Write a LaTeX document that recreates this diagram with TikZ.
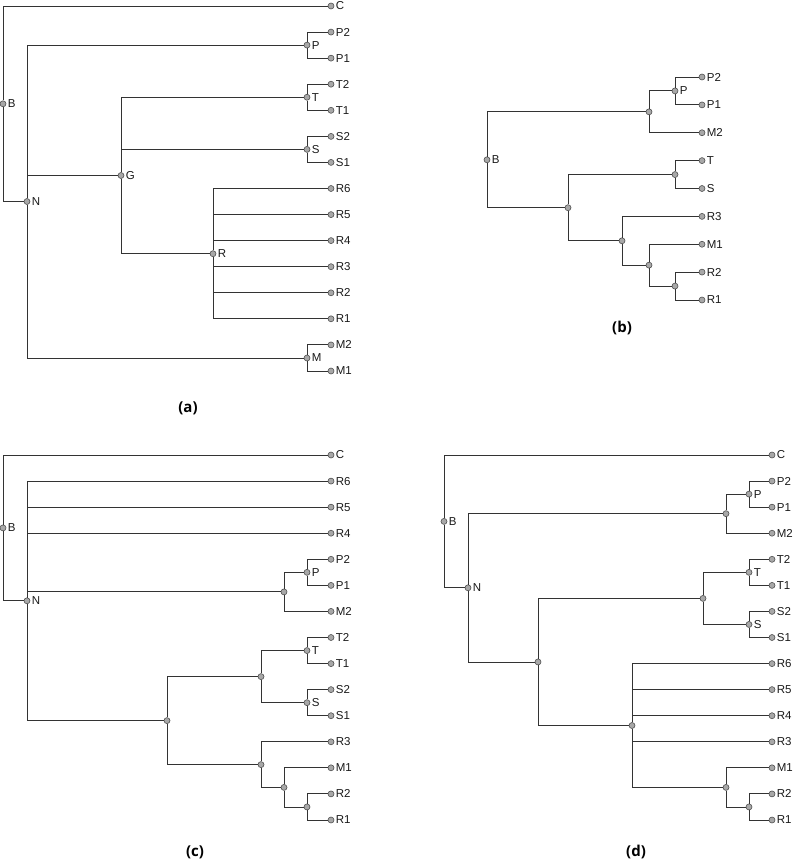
\documentclass[tikz,border=0pt]{standalone}
\usepackage{fontspec}
\setmainfont{Liberation Sans}
\newfontfamily\capfont{Open Sans}
\definecolor{edgecol}{HTML}{333333}
\definecolor{dotfill}{HTML}{A8A8A8}
\definecolor{dotline}{HTML}{505050}
\begin{document}
\begin{tikzpicture}[x=1pt,y=-1pt,
  dot/.style={circle,draw=dotline,fill=dotfill,inner sep=0pt,minimum size=6pt,line width=0.6pt},
  lab/.style={font=\fontsize{11.5}{13}\selectfont,inner sep=0pt,xshift=1.4pt,text=black!90},
  edge/.style={draw=edgecol,line width=0.9pt},
  captext/.style={font=\capfont\bfseries\fontsize{15}{17}\selectfont,inner sep=0pt}]
\useasboundingbox (0,0) rectangle (794,864);

% ---------------- (a) ----------------
\node[dot,label={[lab]right:C}]  (aC)  at (331,6) {};
\node[dot,label={[lab]right:P2}] (aP2) at (331,32.07) {};
\node[dot,label={[lab]right:P1}] (aP1) at (331,58.14) {};
\node[dot,label={[lab]right:T2}] (aT2) at (331,84.2) {};
\node[dot,label={[lab]right:T1}] (aT1) at (331,110.3) {};
\node[dot,label={[lab]right:S2}] (aS2) at (331,136.4) {};
\node[dot,label={[lab]right:S1}] (aS1) at (331,162.4) {};
\node[dot,label={[lab]right:R6}] (aR6) at (331,188.5) {};
\node[dot,label={[lab]right:R5}] (aR5) at (331,214.6) {};
\node[dot,label={[lab]right:R4}] (aR4) at (331,240.6) {};
\node[dot,label={[lab]right:R3}] (aR3) at (331,266.7) {};
\node[dot,label={[lab]right:R2}] (aR2) at (331,292.8) {};
\node[dot,label={[lab]right:R1}] (aR1) at (331,318.8) {};
\node[dot,label={[lab]right:M2}] (aM2) at (331,344.9) {};
\node[dot,label={[lab]right:M1}] (aM1) at (331,371) {};
\node[dot,label={[lab]right:P}] (aP) at (307,45.1) {};
\node[dot,label={[lab]right:T}] (aT) at (307,97.25) {};
\node[dot,label={[lab]right:S}] (aS) at (307,149.4) {};
\node[dot,label={[lab]right:R}] (aR) at (213,253.7) {};
\node[dot,label={[lab]right:M}] (aM) at (307,358) {};
\node[dot,label={[lab]right:G}] (aG) at (121,175.5) {};
\node[dot,label={[lab]right:N}] (aN) at (27,201.5) {};
\node[dot,label={[lab]right:B}] (aB) at (3,103.8) {};
\draw[edge] (aB) |- (aC);  \draw[edge] (aB) |- (aN);
\draw[edge] (aN) |- (aP);  \draw[edge] (aN) |- (aG);  \draw[edge] (aN) |- (aM);
\draw[edge] (aG) |- (aT);  \draw[edge] (aG) |- (aS);  \draw[edge] (aG) |- (aR);
\draw[edge] (aP) |- (aP2); \draw[edge] (aP) |- (aP1);
\draw[edge] (aT) |- (aT2); \draw[edge] (aT) |- (aT1);
\draw[edge] (aS) |- (aS2); \draw[edge] (aS) |- (aS1);
\draw[edge] (aR) |- (aR6); \draw[edge] (aR) |- (aR5); \draw[edge] (aR) |- (aR4);
\draw[edge] (aR) |- (aR3); \draw[edge] (aR) |- (aR2); \draw[edge] (aR) |- (aR1);
\draw[edge] (aM) |- (aM2); \draw[edge] (aM) |- (aM1);
\node[captext] (capa) at (188,408) {(a)};

% ---------------- (b) ----------------
\node[dot,label={[lab]right:P2}] (bP2) at (702,77) {};
\node[dot,label={[lab]right:P1}] (bP1) at (702,104.9) {};
\node[dot,label={[lab]right:M2}] (bM2) at (702,132.75) {};
\node[dot,label={[lab]right:T}]  (bT)  at (702,160.6) {};
\node[dot,label={[lab]right:S}]  (bS)  at (702,188.5) {};
\node[dot,label={[lab]right:R3}] (bR3) at (702,216.4) {};
\node[dot,label={[lab]right:M1}] (bM1) at (702,244.25) {};
\node[dot,label={[lab]right:R2}] (bR2) at (702,272.1) {};
\node[dot,label={[lab]right:R1}] (bR1) at (702,300) {};
\node[dot,label={[lab]right:P}] (bP) at (675,90.94) {};
\node[dot] (bPM) at (649,111.84) {};
\node[dot] (bTS) at (675,174.56) {};
\node[dot] (bRR) at (675,286.06) {};
\node[dot] (bMR) at (649,265.15) {};
\node[dot] (bR3n) at (622,240.8) {};
\node[dot] (bLow) at (568,207.7) {};
\node[dot,label={[lab]right:B}] (bB) at (487,159.8) {};
\draw[edge] (bB) |- (bPM);  \draw[edge] (bB) |- (bLow);
\draw[edge] (bPM) |- (bP);  \draw[edge] (bPM) |- (bM2);
\draw[edge] (bP) |- (bP2);  \draw[edge] (bP) |- (bP1);
\draw[edge] (bLow) |- (bTS); \draw[edge] (bLow) |- (bR3n);
\draw[edge] (bTS) |- (bT);  \draw[edge] (bTS) |- (bS);
\draw[edge] (bR3n) |- (bR3); \draw[edge] (bR3n) |- (bMR);
\draw[edge] (bMR) |- (bM1); \draw[edge] (bMR) |- (bRR);
\draw[edge] (bRR) |- (bR2); \draw[edge] (bRR) |- (bR1);
\node[captext] (capb) at (622,328) {(b)};

% ---------------- (c) ----------------
\node[dot,label={[lab]right:C}]  (cC)  at (331,455) {};
\node[dot,label={[lab]right:R6}] (cR6) at (331,481.07) {};
\node[dot,label={[lab]right:R5}] (cR5) at (331,507.14) {};
\node[dot,label={[lab]right:R4}] (cR4) at (331,533.2) {};
\node[dot,label={[lab]right:P2}] (cP2) at (331,559.3) {};
\node[dot,label={[lab]right:P1}] (cP1) at (331,585.4) {};
\node[dot,label={[lab]right:M2}] (cM2) at (331,611.4) {};
\node[dot,label={[lab]right:T2}] (cT2) at (331,637.5) {};
\node[dot,label={[lab]right:T1}] (cT1) at (331,663.6) {};
\node[dot,label={[lab]right:S2}] (cS2) at (331,689.6) {};
\node[dot,label={[lab]right:S1}] (cS1) at (331,715.7) {};
\node[dot,label={[lab]right:R3}] (cR3) at (331,741.8) {};
\node[dot,label={[lab]right:M1}] (cM1) at (331,767.8) {};
\node[dot,label={[lab]right:R2}] (cR2) at (331,793.9) {};
\node[dot,label={[lab]right:R1}] (cR1) at (331,820) {};
\node[dot,label={[lab]right:P}] (cP) at (307,572.35) {};
\node[dot] (cPM) at (284,591.9) {};
\node[dot,label={[lab]right:T}] (cT) at (307,650.55) {};
\node[dot,label={[lab]right:S}] (cS) at (307,702.65) {};
\node[dot] (cTS) at (261,676.6) {};
\node[dot] (cRR) at (307,806.95) {};
\node[dot] (cMR) at (284,787.4) {};
\node[dot] (cR3n) at (261,764.6) {};
\node[dot] (cBig) at (167,720.6) {};
\node[dot,label={[lab]right:N}] (cN) at (27,600.8) {};
\node[dot,label={[lab]right:B}] (cB) at (3,527.9) {};
\draw[edge] (cB) |- (cC);  \draw[edge] (cB) |- (cN);
\draw[edge] (cN) |- (cR6); \draw[edge] (cN) |- (cR5); \draw[edge] (cN) |- (cR4);
\draw[edge] (cN) |- (cPM); \draw[edge] (cN) |- (cBig);
\draw[edge] (cPM) |- (cP); \draw[edge] (cPM) |- (cM2);
\draw[edge] (cP) |- (cP2); \draw[edge] (cP) |- (cP1);
\draw[edge] (cBig) |- (cTS); \draw[edge] (cBig) |- (cR3n);
\draw[edge] (cTS) |- (cT); \draw[edge] (cTS) |- (cS);
\draw[edge] (cT) |- (cT2); \draw[edge] (cT) |- (cT1);
\draw[edge] (cS) |- (cS2); \draw[edge] (cS) |- (cS1);
\draw[edge] (cR3n) |- (cR3); \draw[edge] (cR3n) |- (cMR);
\draw[edge] (cMR) |- (cM1); \draw[edge] (cMR) |- (cRR);
\draw[edge] (cRR) |- (cR2); \draw[edge] (cRR) |- (cR1);
\node[captext] (capc) at (195,852) {(c)};

% ---------------- (d) ----------------
\node[dot,label={[lab]right:C}]  (dC)  at (772,455) {};
\node[dot,label={[lab]right:P2}] (dP2) at (772,481.07) {};
\node[dot,label={[lab]right:P1}] (dP1) at (772,507.14) {};
\node[dot,label={[lab]right:M2}] (dM2) at (772,533.2) {};
\node[dot,label={[lab]right:T2}] (dT2) at (772,559.3) {};
\node[dot,label={[lab]right:T1}] (dT1) at (772,585.4) {};
\node[dot,label={[lab]right:S2}] (dS2) at (772,611.4) {};
\node[dot,label={[lab]right:S1}] (dS1) at (772,637.5) {};
\node[dot,label={[lab]right:R6}] (dR6) at (772,663.6) {};
\node[dot,label={[lab]right:R5}] (dR5) at (772,689.6) {};
\node[dot,label={[lab]right:R4}] (dR4) at (772,715.7) {};
\node[dot,label={[lab]right:R3}] (dR3) at (772,741.8) {};
\node[dot,label={[lab]right:M1}] (dM1) at (772,767.8) {};
\node[dot,label={[lab]right:R2}] (dR2) at (772,793.9) {};
\node[dot,label={[lab]right:R1}] (dR1) at (772,820) {};
\node[dot,label={[lab]right:P}] (dP) at (749,494.1) {};
\node[dot] (dPM) at (726,513.65) {};
\node[dot,label={[lab]right:T}] (dT) at (749,572.35) {};
\node[dot,label={[lab]right:S}] (dS) at (749,624.45) {};
\node[dot] (dTS) at (703,598.4) {};
\node[dot] (dRR) at (749,806.95) {};
\node[dot] (dMR) at (726,787.4) {};
\node[dot] (dRn) at (632,725.5) {};
\node[dot] (dBig) at (538,661.95) {};
\node[dot,label={[lab]right:N}] (dN) at (468,587.8) {};
\node[dot,label={[lab]right:B}] (dB) at (444,521.4) {};
\draw[edge] (dB) |- (dC);  \draw[edge] (dB) |- (dN);
\draw[edge] (dN) |- (dPM); \draw[edge] (dN) |- (dBig);
\draw[edge] (dPM) |- (dP); \draw[edge] (dPM) |- (dM2);
\draw[edge] (dP) |- (dP2); \draw[edge] (dP) |- (dP1);
\draw[edge] (dBig) |- (dTS); \draw[edge] (dBig) |- (dRn);
\draw[edge] (dTS) |- (dT); \draw[edge] (dTS) |- (dS);
\draw[edge] (dT) |- (dT2); \draw[edge] (dT) |- (dT1);
\draw[edge] (dS) |- (dS2); \draw[edge] (dS) |- (dS1);
\draw[edge] (dRn) |- (dR6); \draw[edge] (dRn) |- (dR5); \draw[edge] (dRn) |- (dR4);
\draw[edge] (dRn) |- (dR3); \draw[edge] (dRn) |- (dMR);
\draw[edge] (dMR) |- (dM1); \draw[edge] (dMR) |- (dRR);
\draw[edge] (dRR) |- (dR2); \draw[edge] (dRR) |- (dR1);
\node[captext] (capd) at (636,852) {(d)};
\end{tikzpicture}
\end{document}
